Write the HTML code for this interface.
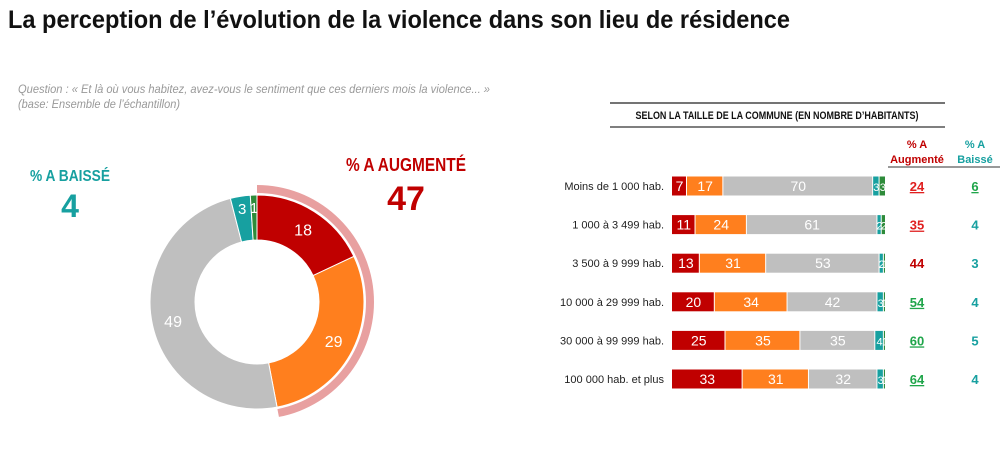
<!DOCTYPE html>
<html><head><meta charset="utf-8"><style>
body{margin:0;background:#fff;}
svg{display:block;font-family:"Liberation Sans",sans-serif;}
</style></head><body>
<svg id="c" width="1000" height="451" viewBox="0 0 1000 451">
<text x="8" y="28" font-size="25" font-weight="bold" fill="#111" textLength="782" lengthAdjust="spacingAndGlyphs">La perception de l’évolution de la violence dans son lieu de résidence</text>
<text x="18" y="93" font-size="12" font-style="italic" fill="#999" textLength="472" lengthAdjust="spacingAndGlyphs">Question : « Et là où vous habitez, avez-vous le sentiment que ces derniers mois la violence... »</text>
<text x="18" y="108" font-size="12" font-style="italic" fill="#999" textLength="162" lengthAdjust="spacingAndGlyphs">(base: Ensemble de l’échantillon)</text>
<text x="70" y="181" font-size="16" font-weight="bold" fill="#17a0a0" text-anchor="middle" textLength="80" lengthAdjust="spacingAndGlyphs">% A BAISSÉ</text>
<text x="70" y="217" font-size="32" font-weight="bold" fill="#17a0a0" text-anchor="middle">4</text>
<text x="406" y="171" font-size="18" font-weight="bold" fill="#c00000" text-anchor="middle" textLength="120" lengthAdjust="spacingAndGlyphs">% A AUGMENTÉ</text>
<text x="406" y="210" font-size="34" font-weight="bold" fill="#c00000" text-anchor="middle">47</text>
<g id="donut"></g>
<line x1="610" y1="103" x2="945" y2="103" stroke="#222" stroke-width="1.2"/>
<line x1="610" y1="127" x2="945" y2="127" stroke="#333" stroke-width="1.2"/>
<text x="777" y="119" font-size="11" font-weight="bold" fill="#111" text-anchor="middle" textLength="283" lengthAdjust="spacingAndGlyphs">SELON LA TAILLE DE LA COMMUNE (EN NOMBRE D’HABITANTS)</text>
<text x="917" y="148" font-size="11" font-weight="bold" fill="#c00000" text-anchor="middle">% A</text>
<text x="917" y="163" font-size="11" font-weight="bold" fill="#c00000" text-anchor="middle">Augmenté</text>
<text x="975" y="148" font-size="11" font-weight="bold" fill="#17a0a0" text-anchor="middle">% A</text>
<text x="975" y="163" font-size="11" font-weight="bold" fill="#17a0a0" text-anchor="middle">Baissé</text>
<line x1="888" y1="167" x2="1000" y2="167" stroke="#333" stroke-width="1"/>
<g id="bars"></g>
</svg>
<script>
const donutLabels=["Beaucoup augmenté","Un peu augmenté","Ni l'un ni l'autre","Un peu baissé","Beaucoup baissé"];
const donutValues=[18,29,49,3,1];
const categories=["Moins de 1 000 hab.","1 000  à 3 499 hab.","3 500 à 9 999 hab.","10 000 à 29 999 hab.","30 000 à 99 999 hab.","100 000 hab. et plus"];
const beaucoupAug=[7,11,13,20,25,33];
const peuAug=[17,24,31,34,35,31];
const niNi=[70,61,53,42,35,32];
const peuBaisse=[3,2,2,3,4,3];
const beaucoupBaisse=[3,2,1,1,1,1];
const totalAug=[24,35,44,54,60,64];
const totalBaisse=[6,4,3,4,5,4];
const colors=["#c00000","#ff7f1e","#bfbfbf","#17a0a0","#2e8b3a"];
const NS="http://www.w3.org/2000/svg";
function mk(tag,attrs,parent){const e=document.createElementNS(NS,tag);for(const k in attrs)e.setAttribute(k,attrs[k]);parent.appendChild(e);return e;}
const dg=document.getElementById('donut');
const cx=257,cy=302,R=107,r=62;
const tot=donutValues.reduce((a,b)=>a+b,0);
function pt(rad,a){return [cx+rad*Math.sin(a),cy-rad*Math.cos(a)];}
function arc(r1,r2,a0,a1){const l=(a1-a0)>Math.PI?1:0;const p0=pt(r2,a0),p1=pt(r2,a1),p2=pt(r1,a1),p3=pt(r1,a0);
return `M${p0}A${r2},${r2} 0 ${l} 1 ${p1}L${p2}A${r1},${r1} 0 ${l} 0 ${p3}Z`;}
let acc=0;
donutValues.forEach((v,i)=>{const a0=acc/tot*2*Math.PI;acc+=v;const a1=acc/tot*2*Math.PI;
const p=mk('path',{d:arc(r,R,a0,a1),fill:colors[i],stroke:'#fff','stroke-width':1},dg);


const m=(a0+a1)/2;const rr=(i>=3)?95:86;const c=pt(rr,m);
const t=mk('text',{x:c[0],y:c[1]+6,'font-size':(i>=3?15:16),fill:'#fff','text-anchor':'middle'},dg);t.textContent=v;


});
const augEnd=(donutValues[0]+donutValues[1])/tot*2*Math.PI;
const hl=mk('path',{d:arc(109,117,0,augEnd),fill:'#e8a0a0'},dg);


const bg=document.getElementById('bars');
const x0=672,W=214,y0=186,step=38.6,h=19;
const xs=v=>v/100*W;
const series=[beaucoupAug,peuAug,niNi,peuBaisse,beaucoupBaisse];
const augColors=["#e02020","#e02020","#c00000","#1fa54a","#1fa54a","#1fa54a"];
const augUnder=[1,1,0,1,1,1];
categories.forEach((c,i)=>{const y=y0+i*step;
const lt=mk('text',{x:664,y:y+4,'font-size':11,fill:'#222','text-anchor':'end'},bg);lt.textContent=c;


let x=x0;
series.forEach((s,j)=>{const w=xs(s[i]);
const rc=mk('rect',{x:x,y:y-h/2,width:Math.max(w-1,0.5),height:h,fill:colors[j]},bg);


const t=mk('text',{x:x+w/2,y:y+5,'font-size':(j>=3?11:14),fill:'#fff','text-anchor':'middle'},bg);t.textContent=s[i];


x+=w;});
const ta=mk('text',{x:917,y:y+5,'font-size':13,'font-weight':'bold',fill:augColors[i],'text-anchor':'middle','text-decoration':augUnder[i]?'underline':'none'},bg);ta.textContent=totalAug[i];


const tb=mk('text',{x:975,y:y+5,'font-size':13,'font-weight':'bold',fill:i==0?'#1fa54a':'#17a0a0','text-anchor':'middle','text-decoration':i==0?'underline':'none'},bg);tb.textContent=totalBaisse[i];


});
</script>
</body></html>
